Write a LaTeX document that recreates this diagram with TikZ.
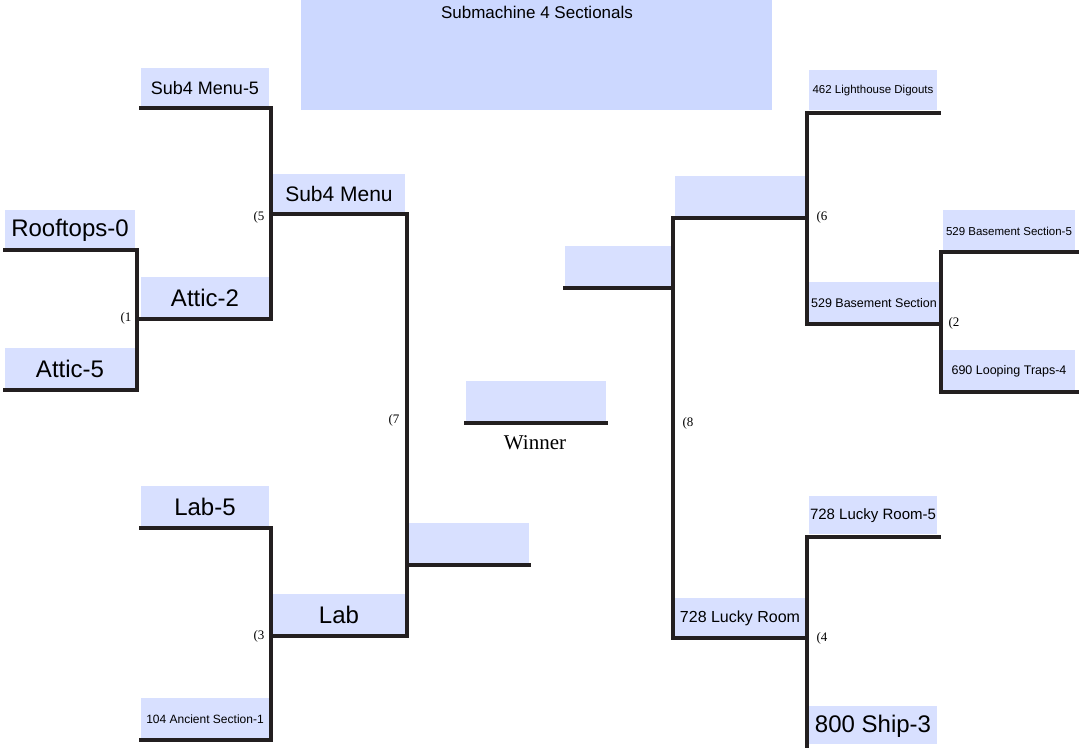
\documentclass[tikz,border=0pt]{standalone}
\usepackage{fontspec}
\setmainfont{Liberation Sans}
\newfontfamily\serf{Liberation Serif}
\definecolor{bx}{HTML}{D8E0FF}
\definecolor{tt}{HTML}{CCD8FF}
\definecolor{ln}{HTML}{231F20}
\begin{document}
\begin{tikzpicture}[x=1pt,y=-1pt,
  box/.style={fill=bx,inner sep=0pt,anchor=center,text=black},
  br/.style={draw=ln,line width=4pt,line cap=rect},
  sd/.style={font=\serf\fontsize{13}{13}\selectfont}]
\useasboundingbox (0,0) rectangle (1083,748);
\fill[tt] (301,0) rectangle (772,110);
\node[font=\fontsize{17}{17}\selectfont] (title) at (537,12) {Submachine 4 Sectionals};
% boxes: corners
\newcommand{\bbox}[7]{\fill[bx] (#1,#2) rectangle (#3,#4);
  \node[font=\fontsize{#6}{#6}\selectfont] (#5) at ({(#1+#3)/2},{(#2+#4)/2+1}) {#7};}
\bbox{141}{68}{269}{106}{s4m5}{18}{Sub4 Menu-5}
\bbox{5}{210}{135}{248}{roof}{24}{Rooftops-0}
\bbox{5}{348}{135}{388}{att5}{24}{Attic-5}
\bbox{141}{277}{269}{317}{att2}{24}{Attic-2}
\bbox{273}{174}{405}{212}{s4m}{21}{Sub4 Menu}
\bbox{141}{486}{269}{526}{lab5}{24}{Lab-5}
\bbox{141}{698}{269}{738}{anc}{12}{104 Ancient Section-1}
\bbox{273}{594}{405}{634}{lab}{24}{Lab}
\bbox{409}{523}{529}{563}{e1}{10}{}
\bbox{466}{381}{606}{421}{win}{10}{}
\bbox{809}{70}{937}{110}{lh}{11.5}{462 Lighthouse Digouts}
\bbox{675}{176}{805}{216}{e2}{10}{}
\bbox{565}{246}{671}{286}{e3}{10}{}
\bbox{943}{210}{1075}{250}{bs5}{11.5}{529 Basement Section-5}
\bbox{809}{282}{939}{322}{bs}{12.5}{529 Basement Section}
\bbox{943}{350}{1075}{390}{lt}{12.5}{690 Looping Traps-4}
\bbox{809}{496}{937}{534}{lr5}{15}{728 Lucky Room-5}
\bbox{675}{598}{805}{636}{lr}{16}{728 Lucky Room}
\bbox{809}{706}{937}{744}{ship}{24}{800 Ship-3}
% lines
\draw[br] (141,108) -- (271,108) -- (271,319);
\draw[br] (5,250) -- (137,250) -- (137,390) -- (5,390);
\draw[br] (137,319) -- (271,319);
\draw[br] (271,214) -- (407,214) -- (407,636);
\draw[br] (141,528) -- (271,528) -- (271,740) -- (141,740);
\draw[br] (271,636) -- (407,636);
\draw[br] (407,565) -- (529,565);
\draw[br] (466,423) -- (606,423);
\node[font=\serf\fontsize{21}{21}\selectfont] (wt) at (535,443) {Winner};
\draw[br] (939,113) -- (807,113) -- (807,324) -- (941,324);
\draw[br] (807,218) -- (673,218) -- (673,638) -- (807,638);
\draw[br] (565,288) -- (673,288);
\draw[br] (1077,252) -- (941,252) -- (941,392) -- (1077,392);
\draw[br] (939,537) -- (807,537) -- (807,746);
% seeds
\node[sd] (n1) at (126,318) {(1};
\node[sd] (n5) at (259,217) {(5};
\node[sd] (n3) at (259,636) {(3};
\node[sd] (n7) at (394,420) {(7};
\node[sd] (n6) at (822,217) {(6};
\node[sd] (n2) at (954,323) {(2};
\node[sd] (n8) at (688,423) {(8};
\node[sd] (n4) at (822,638) {(4};
\end{tikzpicture}
\end{document}
